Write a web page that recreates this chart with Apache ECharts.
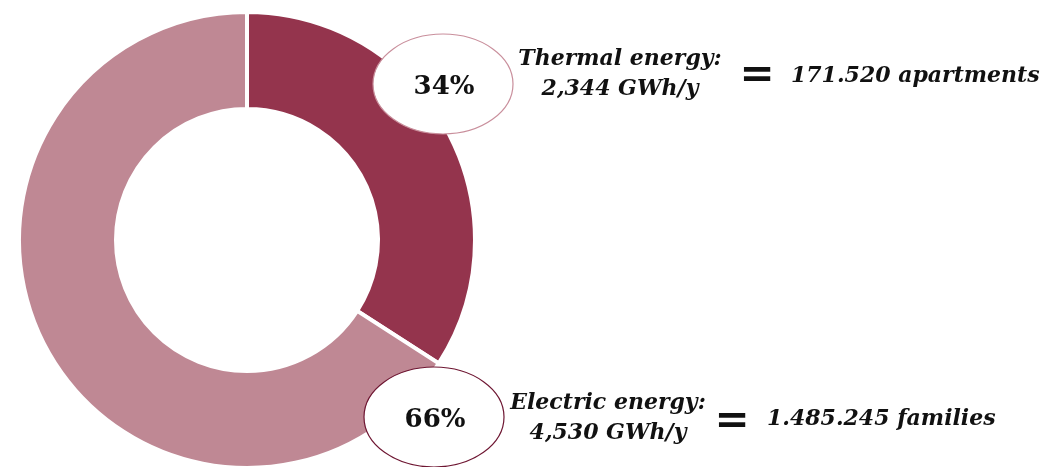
<!DOCTYPE html>
<html>
<head>
<meta charset="utf-8">
<title>Energy donut</title>
<script src="https://cdn.jsdelivr.net/npm/echarts@6/dist/echarts.min.js"></script>
<style>
  html, body { margin: 0; padding: 0; background: #fff; }
  #chart { width: 1053px; height: 467px; }
</style>
</head>
<body>
<div id="chart"></div>
<script>
// data
const names = ["Thermal energy", "Electric energy"];
const gwh = [2344, 4530];
const gwhLabels = ["2,344 GWh/y", "4,530 GWh/y"];
const equivalents = ["171.520 apartments", "1.485.245 families"];
const colors = ["#94344d", "#bf8894"];
const ringColors = ["#c98f9c", "#6e1632"];

const total = gwh.reduce((a, b) => a + b, 0);
const pct = gwh.map((v) => Math.round((v / total) * 100) + "%");

const chart = echarts.init(document.getElementById("chart"));

const labelFont = "'DejaVu Serif', 'Liberation Serif', serif";

// ellipse + texts for each slice
const spots = [
  { cx: 443, cy: 84, tx: 620, ty: 74, eq: 757, ey: 76, vx: 791, vy: 76 },
  { cx: 434, cy: 417, tx: 608, ty: 418, eq: 732, ey: 422, vx: 767, vy: 419 },
];

const graphics = [];
spots.forEach((s, i) => {
  graphics.push({
    type: "ellipse",
    shape: { cx: s.cx, cy: s.cy, rx: 70, ry: 50 },
    style: { fill: "#fff", stroke: ringColors[i], lineWidth: 1.2 },
    z: 10,
  });
  graphics.push({
    type: "text",
    x: s.cx + 1,
    y: s.cy + 3,
    style: {
      text: pct[i],
      font: "bold 26px " + labelFont,
      fill: "#111",
      align: "center",
      verticalAlign: "middle",
    },
    z: 11,
  });
  graphics.push({
    type: "text",
    x: s.tx,
    y: s.ty,
    style: {
      text: names[i] + ":\n" + gwhLabels[i],
      font: "italic bold 22px " + labelFont,
      lineHeight: 30,
      fill: "#111",
      align: "center",
      verticalAlign: "middle",
    },
    z: 11,
  });
  graphics.push({
    type: "text",
    x: s.eq,
    y: s.ey,
    style: {
      text: "=",
      font: "bold 42px " + labelFont,
      fill: "#111",
      align: "center",
      verticalAlign: "middle",
    },
    z: 11,
  });
  graphics.push({
    type: "text",
    x: s.vx,
    y: s.vy,
    style: {
      text: equivalents[i],
      font: "italic bold 22px " + labelFont,
      fill: "#111",
      align: "left",
      verticalAlign: "middle",
    },
    z: 11,
  });
});

chart.setOption({
  animation: false,
  series: [
    {
      type: "pie",
      center: [247, 240],
      radius: [131, 228],
      startAngle: 90,
      clockwise: true,
      label: { show: false },
      labelLine: { show: false },
      itemStyle: { borderColor: "#fff", borderWidth: 4 },
      emphasis: { disabled: true },
      data: names.map((n, i) => ({
        name: n,
        value: gwh[i],
        itemStyle: { color: colors[i] },
      })),
    },
  ],
  graphic: graphics,
});

window.addEventListener("resize", function () {
  chart.resize();
});
</script>
</body>
</html>
